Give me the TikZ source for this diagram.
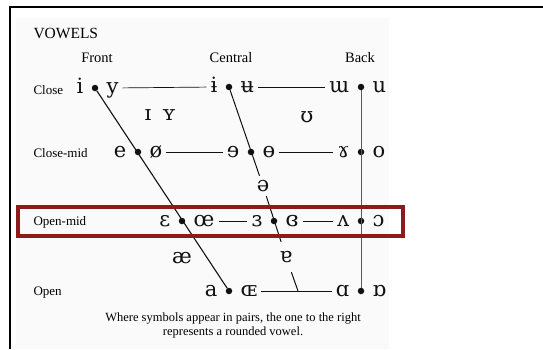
\documentclass[tikz,border=0pt]{standalone}
\usepackage{fontspec}
\setmainfont{Liberation Serif}
\newfontfamily\ipafont{DejaVu Serif}
\usetikzlibrary{positioning}
\definecolor{ink}{HTML}{111111}
\definecolor{rule}{HTML}{5A5A5A}
\definecolor{band}{HTML}{8E1B1B}
\definecolor{paper}{HTML}{FAFAFA}
\tikzset{vowel/.style={inner sep=0pt,text height=15pt,text depth=5pt,font=\ipafont\fontsize{21}{21}\selectfont,text=ink},pt/.style={circle,fill=ink,inner sep=0pt,minimum size=6.5pt},row/.style={anchor=west,font=\fontsize{13}{13}\selectfont},col/.style={font=\fontsize{14.5}{14.5}\selectfont},link/.style={draw=ink,line width=.7pt,shorten <=4pt,shorten >=4pt},slope/.style={draw=ink,line width=1.1pt},back/.style={draw=rule,line width=.8pt},hilite/.style={draw=band,line width=3.5pt,inner sep=0pt,minimum width=385pt,minimum height=29pt},note/.style={align=center,font=\fontsize{12.5}{14}\selectfont}}

\begin{document}
\begin{tikzpicture}[x=1pt,y=-1pt,node distance=8pt]
\useasboundingbox (0,0) rectangle (543,349);
\fill[paper] (16,18) rectangle (389,349);
\draw[line width=1.4pt] (543,7) -- (10,7) -- (10,349);
\node[anchor=west,font=\fontsize{15.5}{15.5}\selectfont] (title) at (30,33) {VOWELS};
\node[col] (front) at (97,58) {Front};
\node[col] (central) at (231,58) {Central};
\node[col] (backcol) at (360,58) {Back};
\node[row] (close) at (30,90) {Close};
\node[row] (closemid) at (30,153) {Close-mid};
\node[row] (openmid) at (30,222) {Open-mid};
\node[row] (open) at (30,293) {Open};
\node[pt] (dI) at (95,88) {};
\node[vowel,left=of dI] (i) {i}; \node[vowel,right=of dI] (y) {y};
\node[pt] (dIbar) at (229,87) {};
\node[vowel,left=of dIbar] (ibar) {ɨ}; \node[vowel,right=of dIbar] (ubar) {ʉ};
\node[pt] (dU) at (361,87) {};
\node[vowel,left=of dU] (turnm) {ɯ}; \node[vowel,right=of dU] (u) {u};
\node[vowel] (smallcapi) at (148,115) {ɪ};
\node[vowel] (smallcapy) at (169,115) {ʏ};
\node[vowel] (upsilon) at (307,117) {ʊ};
\node[pt] (dE) at (138,152) {};
\node[vowel,left=of dE] (e) {e}; \node[vowel,right=of dE] (oslash) {ø};
\node[pt] (dEbar) at (251,152) {};
\node[vowel,left=of dEbar] (reve) {ɘ}; \node[vowel,right=of dEbar] (baro) {ɵ};
\node[pt] (dO) at (361,152) {};
\node[vowel,left=of dO] (ramshorn) {ɤ}; \node[vowel,right=of dO] (o) {o};
\node[vowel,inner sep=0pt] (schwa) at (263,186) {ə};
\node[pt] (dEps) at (182,221) {};
\node[vowel,left=of dEps] (eps) {ɛ}; \node[vowel,right=of dEps] (oe) {œ};
\node[pt] (dRevEps) at (274,221) {};
\node[vowel,left=of dRevEps] (reveps) {ɜ}; \node[vowel,right=of dRevEps] (closedreveps) {ɞ};
\node[pt] (dOpenO) at (361,221) {};
\node[vowel,left=of dOpenO] (turnv) {ʌ}; \node[vowel,right=of dOpenO] (openo) {ɔ};
\node[vowel] (ash) at (182,258) {æ};
\node[vowel,inner sep=5pt] (turna) at (286,257) {ɐ};
\node[pt] (dA) at (229,291) {};
\node[vowel,left=of dA] (a) {a}; \node[vowel,right=of dA] (capoe) {ɶ};
\node[pt] (dAlpha) at (361,291) {};
\node[vowel,left=of dAlpha] (alpha) {ɑ}; \node[vowel,right=of dAlpha] (turnalpha) {ɒ};
\coordinate (openjoin) at (298,291);
\draw[link] (y)--(ibar);\draw[link] (ubar)--(turnm);
\draw[link] (oslash)--(reve);\draw[link] (baro)--(ramshorn);
\draw[link] (oe)--(reveps);\draw[link] (closedreveps)--(turnv);
\draw[link] (capoe)--(alpha);
\draw[slope] (dI)--(dA);
\draw[slope,line width=1pt] (dIbar)--(schwa)--(turna)--(openjoin);
\draw[back] (dU)--(dAlpha);
\node[hilite] (band) at (210.5,221.5) {};
\node[note] (caption) at (233,325) {Where symbols appear in pairs, the one to the right\\represents a rounded vowel.};
\end{tikzpicture}
\end{document}
